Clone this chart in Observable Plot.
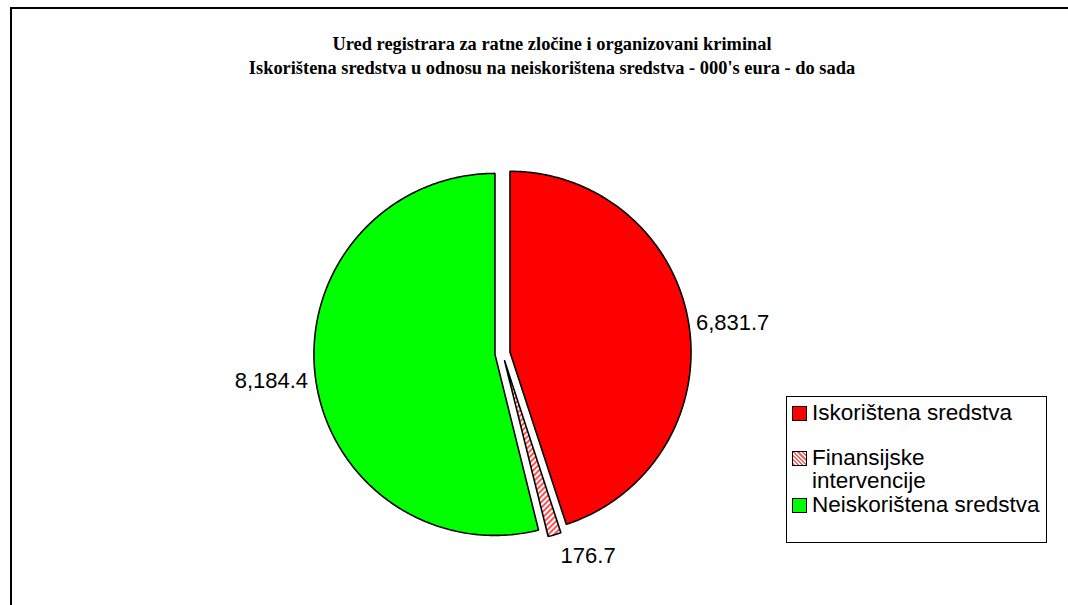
<!DOCTYPE html>
<html><head><meta charset="utf-8">
<script src="https://cdn.jsdelivr.net/npm/d3@7"></script>
<script src="https://cdn.jsdelivr.net/npm/@observablehq/plot@0.6"></script>
<style>
body{margin:0;background:#fff;}
#wrap{position:relative;width:1068px;height:605px;overflow:hidden;background:#fff;}
#border{position:absolute;left:10px;top:7px;width:1200px;height:800px;border:2px solid #000;box-sizing:border-box;}
#title{position:absolute;left:0;width:1104px;top:32px;text-align:center;font-family:"Liberation Serif","Times New Roman",serif;font-weight:bold;font-size:18.4px;line-height:24px;color:#000;}
#chart{position:absolute;left:0;top:0;}
#legend{position:absolute;left:786px;top:396px;width:261px;height:147px;border:1px solid #000;box-sizing:border-box;font-family:"Liberation Sans",Arial,sans-serif;font-size:22.5px;color:#000;}
.item{position:absolute;left:5px;display:flex;align-items:flex-start;line-height:23px;}
.sw{width:13px;height:13px;border:1.5px solid #000;margin-top:5px;margin-right:5px;flex:none;}
</style></head><body>
<div id="wrap">
  <div id="border"></div>
  <div id="chart"></div>
  <div id="title"></div>
  <div id="legend"></div>
</div>
<script>
const titleLines = ["Ured registrara za ratne zločine i organizovani kriminal",
  "Iskorištena sredstva u odnosu na neiskorištena sredstva - 000's eura - do sada"];
const categories = ["Iskorištena sredstva", "Finansijske intervencije", "Neiskorištena sredstva"];
const legendLabels = ["Iskorištena sredstva", "Finansijske<br>intervencije", "Neiskorištena sredstva"];
const values = [6831.7, 176.7, 8184.4];
const valueLabels = ["6,831.7", "176.7", "8,184.4"];

// styles
const fills = ["#ff0000", "url(#hatch)", "#00ff00"];
const swatchCss = ["#ff0000", "repeating-linear-gradient(45deg,#ff6060 0 1.5px,#fff 1.5px 3px)", "#00ff00"];
const explode = 0.042;

document.getElementById("title").innerHTML = titleLines.join("<br>");

const arcs = d3.pie().sort(null).value(d => d)(values);
const slices = arcs.map((a, i) => {
  const mid = (a.startAngle + a.endAngle) / 2;
  const cx = explode * Math.sin(mid), cy = explode * Math.cos(mid);
  const n = Math.max(4, Math.ceil((a.endAngle - a.startAngle) / 0.01));
  const pts = [{x: cx, y: cy}];
  for (let k = 0; k <= n; k++) {
    const t = a.startAngle + (a.endAngle - a.startAngle) * k / n;
    pts.push({x: cx + Math.sin(t), y: cy + Math.cos(t)});
  }
  pts.push({x: cx, y: cy});
  const r = i === 1 ? 1.12 : 1.04;
  return {pts, cat: categories[i], label: valueLabels[i],
    lx: cx + r * Math.sin(mid), ly: cy + r * Math.cos(mid) - (i === 2 ? 0.02 : 0),
    anchor: Math.sin(mid) > 0.1 ? "start" : Math.sin(mid) < -0.1 ? "end" : "middle"};
});

const R = 181, CX = 502, CY = 353, W = 1068, H = 605;
const textOpts = {x: "lx", y: "ly", text: "label", fontSize: 22,
  fontFamily: "Liberation Sans, Arial, sans-serif", fill: "#000", lineAnchor: "middle"};
const plot = Plot.plot({
  width: W, height: H, margin: 0,
  x: {domain: [-CX / R, (W - CX) / R], axis: null},
  y: {domain: [-(H - CY) / R, CY / R], axis: null},
  style: {background: "transparent", overflow: "visible"},
  marks: [
    ...slices.map((s, i) => Plot.line(s.pts, {x: "x", y: "y", fill: fills[i], stroke: "#000", strokeWidth: 1.6, strokeLinejoin: "miter"})),
    ...["start", "end", "middle"].map(an =>
      Plot.text(slices.filter(s => s.anchor === an), {...textOpts, textAnchor: an}))
  ]
});
// hatch pattern defs
const ns = "http://www.w3.org/2000/svg";
const defs = document.createElementNS(ns, "defs");
defs.innerHTML = '<pattern id="hatch" patternUnits="userSpaceOnUse" width="4" height="4" patternTransform="rotate(45)"><rect width="4" height="4" fill="#fff"/><rect width="2" height="4" fill="#ff5050"/></pattern>';
plot.insertBefore(defs, plot.firstChild);
document.getElementById("chart").appendChild(plot);

// legend
const tops = [4, 49, 96];
document.getElementById("legend").innerHTML = legendLabels.map((l, i) =>
  `<div class="item" style="top:${tops[i]}px"><div class="sw" style="background:${swatchCss[i]}"></div><div>${l}</div></div>`).join("");
</script>
</body></html>
